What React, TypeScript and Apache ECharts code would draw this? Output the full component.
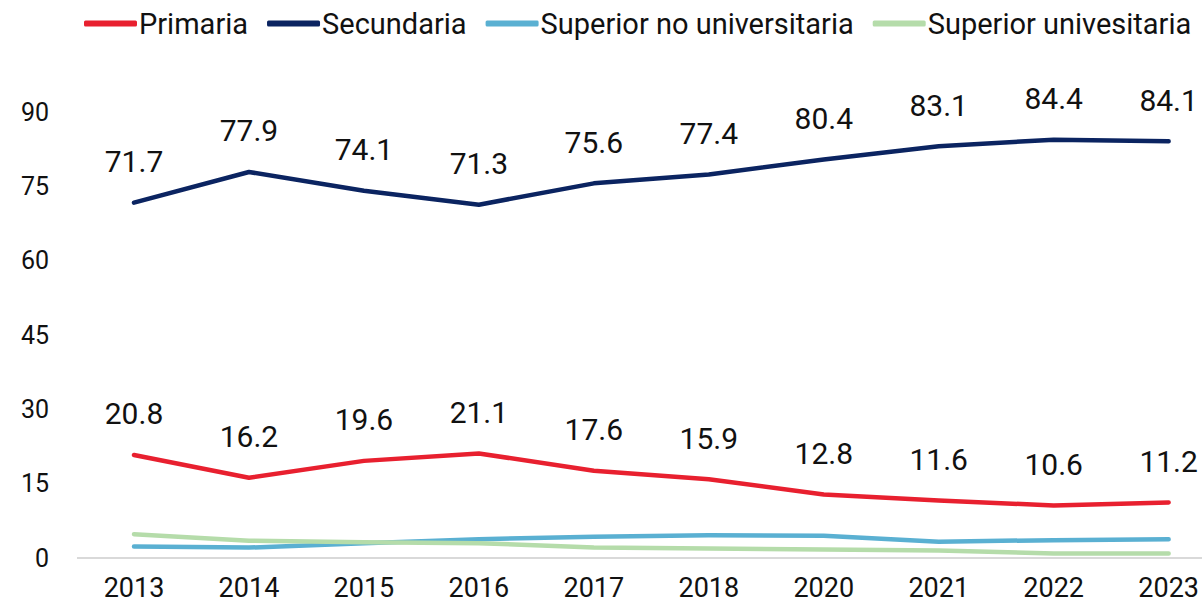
import React, { useEffect, useRef } from "react";
import * as echarts from "echarts";

const years = ["2013", "2014", "2015", "2016", "2017", "2018", "2020", "2021", "2022", "2023"];
const primaria = [20.8, 16.2, 19.6, 21.1, 17.6, 15.9, 12.8, 11.6, 10.6, 11.2];
const secundaria = [71.7, 77.9, 74.1, 71.3, 75.6, 77.4, 80.4, 83.1, 84.4, 84.1];
const superiorNoUniv = [2.3, 2.1, 3.0, 3.8, 4.3, 4.6, 4.5, 3.3, 3.6, 3.8];
const superiorUniv = [4.8, 3.5, 3.2, 3.0, 2.1, 1.9, 1.7, 1.5, 0.9, 0.9];

const FONT = "Roboto";

export default function App() {
  const ref = useRef<HTMLDivElement>(null);
  useEffect(() => {
    if (!ref.current) return;
    const chart = echarts.init(ref.current, null, { renderer: "svg" });
    const mk = (name: string, data: number[], color: string, label: boolean) => ({
      name,
      type: "line",
      data,
      symbol: "circle",
      symbolSize: 0,
      showSymbol: true,
      smooth: false,
      lineStyle: { color, width: 4.5, cap: "round", join: "round" },
      itemStyle: { color },
      label: label
        ? { show: true, position: "top", distance: 26, color: "#111", fontSize: 30, fontFamily: FONT }
        : { show: false },
    });
    chart.setOption({
      animation: false,
      textStyle: { fontFamily: FONT },
      legend: {
        top: 4,
        left: 79,
        itemWidth: 53,
        itemHeight: 6,
        itemGap: 19,
        icon: "roundRect",
        textStyle: { fontSize: 29, color: "#111", fontFamily: FONT, padding: [0, 0, 0, -3] },
        data: ["Primaria", "Secundaria", "Superior no universitaria", "Superior univesitaria"],
      },
      grid: { left: 134, top: 112, height: 446, right: 32 },
      graphic: [
        {
          type: "line",
          shape: { x1: 77, y1: 558, x2: 1202, y2: 558 },
          style: { stroke: "#d9d9d9", lineWidth: 2 },
          z: 0,
        },
      ],
      xAxis: {
        type: "category",
        data: years,
        boundaryGap: false,
        axisLine: { show: false },
        axisTick: { show: false },
        axisLabel: { fontSize: 27, color: "#111", margin: 16, fontFamily: FONT },
      },
      yAxis: {
        type: "value",
        min: 0,
        max: 90,
        interval: 15,
        splitLine: { show: false },
        axisLine: { show: false },
        axisTick: { show: false },
        axisLabel: { fontSize: 25, color: "#111", margin: 85, fontFamily: FONT },
      },
      series: [
        mk("Primaria", primaria, "#E8202F", true),
        mk("Secundaria", secundaria, "#0B2461", true),
        mk("Superior no universitaria", superiorNoUniv, "#5AB0D2", false),
        mk("Superior univesitaria", superiorUniv, "#B5DCAA", false),
      ],
    });
    return () => chart.dispose();
  }, []);
  return <div ref={ref} style={{ width: 1202, height: 606, position: "absolute", left: 0, top: 0 }} />;
}
